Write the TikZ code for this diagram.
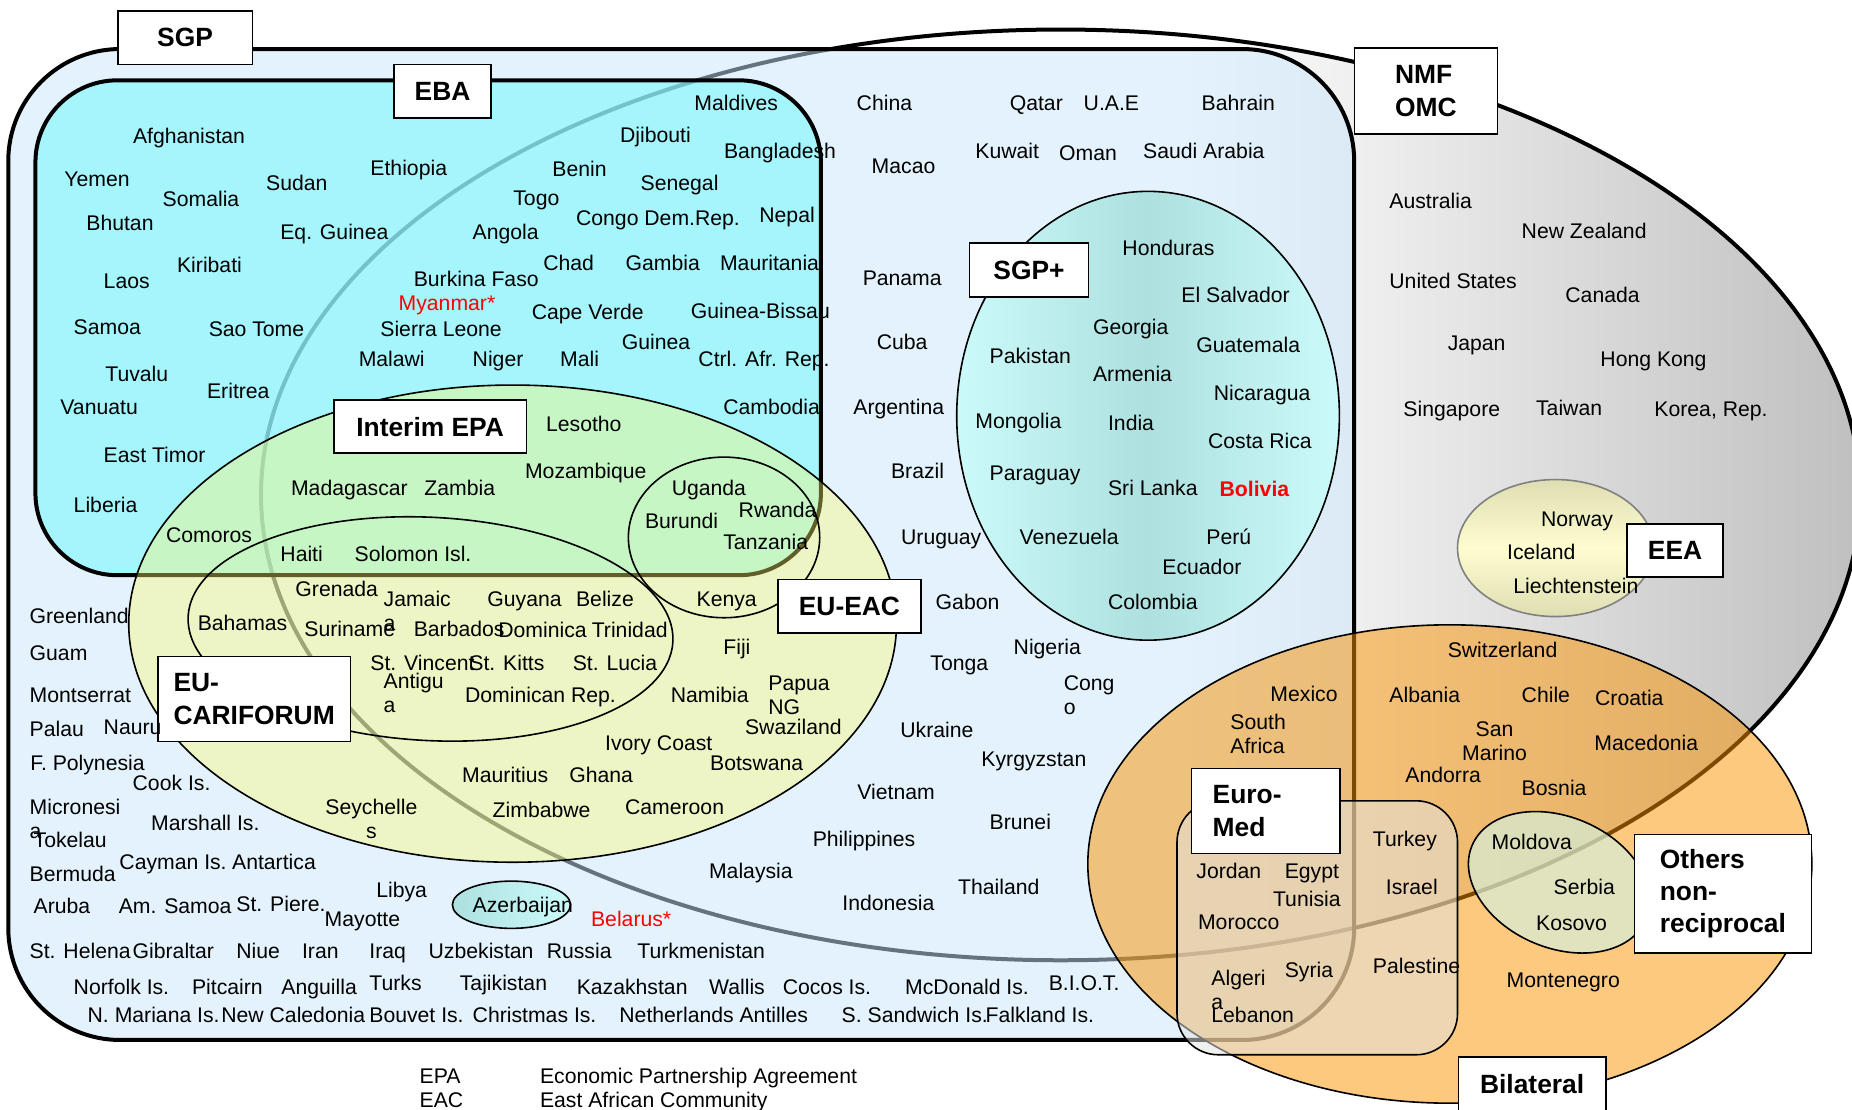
\documentclass[tikz,border=0pt]{standalone}
\usepackage{fontspec}
\setmainfont{Liberation Sans}
\usepackage{xcolor}
\usepackage{tikz}
\newdimen\pxu
\pxu=0.5906pt
\definecolor{sgpblue}{RGB}{200,230,250}
\definecolor{ebacyan}{RGB}{125,247,252}
\definecolor{epayellow}{RGB}{255,250,108}
\definecolor{bilorange}{RGB}{249,147,0}
\definecolor{medgrey}{RGB}{227,227,226}
\definecolor{othgreen}{RGB}{213,239,217}
\definecolor{teallight}{RGB}{204,250,250}
\definecolor{tealdark}{RGB}{174,224,224}
\definecolor{eealight}{RGB}{254,253,208}
\definecolor{eeadark}{RGB}{222,222,178}
\colorlet{nmfgrey}{gray!50}
\pgfdeclarehorizontalshading{nmfshade}{100bp}{color(0bp)=(white); color(54bp)=(white); color(75bp)=(nmfgrey); color(100bp)=(nmfgrey)}
\newcommand{\wrapl}[1]{\begin{tabular}[t]{@{}l@{}}#1\end{tabular}}
\newcommand{\wrapc}[1]{\begin{tabular}[t]{@{}c@{}}#1\end{tabular}}
\tikzset{
    country/.style = {inner sep=0pt, anchor=base west, font=\fontsize{10.6}{12}\selectfont},
    flagged/.style = {country, text=red},
    tag/.style = {rectangle, draw=black, fill=white, line width=0.8pt, inner sep=0pt, anchor=north west, align=left, font=\bfseries\fontsize{13.2}{16.2}\selectfont},
    border/.style = {draw=black, line width=2pt},
    ring/.style = {draw=black, line width=0.8pt}
}
\begin{document}
\begin{tikzpicture}[x=0.5906pt, y=-0.5906pt]
\useasboundingbox (0,0) rectangle (1568,939);

\draw [border, shade, shading=nmfshade] (898,419) ellipse [x radius=677, y radius=394];
\draw [border, fill=sgpblue, fill opacity=0.5, rounded corners=56pt] (7,41.5) rectangle (1146.5,880.5);
\draw [border, fill=ebacyan, fill opacity=0.6, rounded corners=41pt] (30,68) rectangle (695,487);
\draw [ring, fill=epayellow, fill opacity=0.38] (434,528) ellipse [x radius=325, y radius=202];
\draw [ring, rotate around={-3:(364.5,532.5)}] (364.5,532.5) ellipse [x radius=205.5, y radius=94.5];
\draw [ring] (613,455) ellipse [x radius=81, y radius=68];
\draw [ring, left color=teallight, right color=teallight, middle color=tealdark] (972,352) ellipse [x radius=162, y radius=190];
\draw [ring, left color=tealdark, right color=teallight] (433,766) ellipse [x radius=50, y radius=20];
\draw [draw=gray, line width=0.8pt, top color=eeadark, bottom color=eeadark, middle color=eealight] (1317,464) ellipse [x radius=83, y radius=58];
\draw [ring, fill=bilorange, fill opacity=0.5] (1227.5,731.5) ellipse [x radius=306.5, y radius=202.5];
\draw [ring, fill=medgrey, fill opacity=0.52, rounded corners=20.7pt] (996.5,678) rectangle (1234,893);
\draw [ring, fill=othgreen, fill opacity=0.7, rotate around={-23:(1320,747)}] (1320,747) ellipse [x radius=80, y radius=55.5];

\node (sgp) [tag, minimum width=114*\pxu, minimum height=45.5*\pxu] at (99,8.5) {SGP};
\node (eba) [tag, minimum width=82*\pxu, minimum height=45*\pxu] at (333,54) {EBA};
\node (nmf) [tag, minimum width=121*\pxu, minimum height=73*\pxu] at (1146,40) {NMF\\OMC};
\node (sgpplus) [tag, minimum width=101*\pxu, minimum height=46*\pxu] at (820,205) {SGP+};
\node (interimepa) [tag, minimum width=163*\pxu, minimum height=45*\pxu] at (282,338) {Interim EPA};
\node (eueac) [tag, minimum width=121*\pxu, minimum height=45*\pxu] at (658,490) {EU-EAC};
\node (cariforum) [tag, minimum width=163*\pxu, minimum height=72*\pxu] at (133,555) {EU-\\CARIFORUM};
\node (eea) [tag, minimum width=81*\pxu, minimum height=45*\pxu] at (1377,443) {EEA};
\node (euromed) [tag, minimum width=126*\pxu, minimum height=72*\pxu, text width=90*\pxu] at (1008,650) {Euro-\\Med};
\node (others) [tag, minimum width=150*\pxu, minimum height=100*\pxu] at (1383,706) {Others\\non-\\reciprocal};
\node (bilateral) [tag, minimum width=125*\pxu, minimum height=46*\pxu] at (1234,894) {Bilateral};

\node (afghanistan) [country] at (112.3,121.4) {Afghanistan};
\node (yemen) [country] at (54.2,157.5) {Yemen};
\node (somalia) [country] at (137.4,175) {Somalia};
\node (sudan) [country] at (225,161.7) {Sudan};
\node (ethiopia) [country] at (313.3,148.2) {Ethiopia};
\node (bhutan) [country] at (72.8,195.3) {Bhutan};
\node (eqguinea) [country] at (237,202.4) {Eq. Guinea};
\node (kiribati) [country] at (149.6,230.9) {Kiribati};
\node (laos) [country] at (87.5,244.4) {Laos};
\node (samoa) [country] at (62.1,283.6) {Samoa};
\node (saotome) [country] at (176.4,285.1) {Sao Tome};
\node (tuvalu) [country] at (88.9,323.2) {Tuvalu};
\node (eritrea) [country] at (175,337.3) {Eritrea};
\node (vanuatu) [country] at (50.8,350.8) {Vanuatu};
\node (easttimor) [country] at (87.5,391.7) {East Timor};
\node (liberia) [country] at (62.1,434.1) {Liberia};
\node (burkina) [country] at (350,242.7) {Burkina Faso};
\node (myanmar) [flagged] at (337.2,263.3) {Myanmar*};
\node (sierraleone) [country] at (321.7,284.5) {Sierra Leone};
\node (malawi) [country] at (303.4,310.5) {Malawi};
\node (niger) [country] at (399.9,310.5) {Niger};
\node (mali) [country] at (473.9,310.5) {Mali};
\node (maldives) [country] at (587.6,93.7) {Maldives};
\node (djibouti) [country] at (524.7,120.8) {Djibouti};
\node (bangladesh) [country] at (612.7,134) {Bangladesh};
\node (benin) [country] at (467.4,149.6) {Benin};
\node (senegal) [country] at (542.1,161.7) {Senegal};
\node (togo) [country] at (434.3,174.4) {Togo};
\node (congodr) [country] at (487.4,190.5) {Congo Dem.Rep.};
\node (nepal) [country] at (642.6,188.5) {Nepal};
\node (angola) [country] at (399.9,202.4) {Angola};
\node (chad) [country] at (459.7,229.2) {Chad};
\node (gambia) [country] at (529.4,229.2) {Gambia};
\node (mauritania) [country] at (609.3,229.2) {Mauritania};
\node (capeverde) [country] at (449.9,270.1) {Cape Verde};
\node (guineabissau) [country] at (584.5,269.5) {Guinea-Bissau};
\node (guinea) [country] at (526.1,296.3) {Guinea};
\node (ctrlafr) [country] at (591,309.9) {Ctrl. Afr. Rep.};
\node (cambodia) [country] at (612.1,350.8) {Cambodia};

\node (lesotho) [country] at (462,364.9) {Lesotho};
\node (madagascar) [country] at (246.1,419.1) {Madagascar};
\node (zambia) [country] at (359,419.1) {Zambia};
\node (mozambique) [country] at (444.2,405) {Mozambique};
\node (comoros) [country] at (140.3,459.5) {Comoros};
\node (haiti) [country] at (237.1,475.6) {Haiti};
\node (solomon) [country] at (300,475.6) {Solomon Isl.};
\node (uganda) [country] at (568.4,419.1) {Uganda};
\node (rwanda) [country] at (625.1,438) {Rwanda};
\node (burundi) [country] at (545.8,447.3) {Burundi};
\node (tanzania) [country] at (612.1,465.1) {Tanzania};
\node (kenya) [country] at (589.5,513.7) {Kenya};
\node (grenada) [country] at (249.8,505.2) {Grenada};
\node (jamaica) [country] at (324.5,513.7) {\wrapl{Jamaic\\a}};
\node (bahamas) [country] at (167.1,533.4) {Bahamas};
\node (suriname) [country] at (257.4,539.1) {Suriname};
\node (barbados) [country] at (350,539.1) {Barbados};
\node (guyana) [country] at (412.3,513.7) {Guyana};
\node (belize) [country] at (487.4,513.7) {Belize};
\node (dominica) [country] at (421.6,539.9) {Dominica};
\node (trinidad) [country] at (500.7,539.9) {Trinidad};
\node (stvincent) [country] at (313.3,567.3) {St. Vincent};
\node (stkitts) [country] at (397.1,567.3) {St. Kitts};
\node (stlucia) [country] at (484.6,567.3) {St. Lucia};
\node (antigua) [country] at (324.5,582.8) {\wrapl{Antigu\\a}};
\node (dominicanrep) [country] at (393.4,594.6) {Dominican Rep.};
\node (fiji) [country] at (612.1,554) {Fiji};
\node (namibia) [country] at (567.6,594.6) {Namibia};
\node (papua) [country] at (650.2,584.2) {\wrapl{Papua\\NG}};
\node (swaziland) [country] at (630.5,621.7) {Swaziland};
\node (ivorycoast) [country] at (512,635) {Ivory Coast};
\node (botswana) [country] at (600.9,652) {Botswana};
\node (mauritius) [country] at (391,662.7) {Mauritius};
\node (ghana) [country] at (481.7,662.7) {Ghana};
\node (zimbabwe) [country] at (416.8,692) {Zimbabwe};
\node (cameroon) [country] at (528.9,690) {Cameroon};
\node (seychelles) [country] at (275.2,690) {\wrapc{Seychelle\\s}};

\node (greenland) [country] at (24.8,527.8) {Greenland};
\node (guam) [country] at (24.8,559.6) {Guam};
\node (montserrat) [country] at (24.8,594.6) {Montserrat};
\node (palau) [country] at (24.8,623.7) {Palau};
\node (nauru) [country] at (87.5,621.7) {Nauru};
\node (fpolynesia) [country] at (25.4,652) {F. Polynesia};
\node (cookis) [country] at (112,668.9) {Cook Is.};
\node (micronesia) [country] at (24.8,690) {\wrapl{Micronesi\\a}};
\node (marshall) [country] at (127.6,703.3) {Marshall Is.};
\node (tokelau) [country] at (28.2,717.4) {Tokelau};
\node (cayman) [country] at (100.8,735.8) {Cayman Is.};
\node (antartica) [country] at (196.2,735.8) {Antartica};
\node (bermuda) [country] at (24.8,746.5) {Bermuda};
\node (libya) [country] at (318.3,759.7) {Libya};
\node (aruba) [country] at (28.2,773.3) {Aruba};
\node (amsamoa) [country] at (100.2,773.3) {Am. Samoa};
\node (stpiere) [country] at (199.8,771.3) {St. Piere.};
\node (mayotte) [country] at (274.6,784.6) {Mayotte};
\node (sthelena) [country] at (24.8,811.4) {St. Helena};
\node (gibraltar) [country] at (112,811.4) {Gibraltar};
\node (niue) [country] at (199.8,811.4) {Niue};
\node (iran) [country] at (255.4,811.4) {Iran};
\node (iraq) [country] at (312.4,811.4) {Iraq};
\node (uzbekistan) [country] at (362.6,811.4) {Uzbekistan};
\node (russia) [country] at (462.6,811.4) {Russia};
\node (turkmenistan) [country] at (539.3,811.4) {Turkmenistan};
\node (norfolk) [country] at (62.1,841.6) {Norfolk Is.};
\node (pitcairn) [country] at (162.3,841.6) {Pitcairn};
\node (anguilla) [country] at (237.9,841.6) {Anguilla};
\node (turks) [country] at (312.4,838.2) {Turks};
\node (tajikistan) [country] at (389,838.2) {Tajikistan};
\node (kazakhstan) [country] at (488,841.6) {Kazakhstan};
\node (wallis) [country] at (600,841.6) {Wallis};
\node (cocos) [country] at (662.4,841.6) {Cocos Is.};
\node (mcdonald) [country] at (766,841.6) {McDonald Is.};
\node (biot) [country] at (887.6,838.8) {B.I.O.T.};
\node (nmariana) [country] at (73.9,865.9) {N. Mariana Is.};
\node (newcaledonia) [country] at (187.1,865.9) {New Caledonia};
\node (bouvet) [country] at (312.4,865.9) {Bouvet Is.};
\node (christmas) [country] at (399.9,865.9) {Christmas Is.};
\node (netherlands) [country] at (524.1,865.9) {Netherlands Antilles};
\node (ssandwich) [country] at (712.3,865.9) {S. Sandwich Is.};
\node (falkland) [country] at (834.2,865.9) {Falkland Is.};
\node (azerbaijan) [country] at (399.9,772.7) {Azerbaijan};
\node (belarus) [flagged] at (500.1,784) {Belarus*};

\node (china) [country] at (725,93.7) {China};
\node (macao) [country] at (737.7,147.3) {Macao};
\node (panama) [country] at (730.1,242.1) {Panama};
\node (cuba) [country] at (742,296.3) {Cuba};
\node (argentina) [country] at (722.2,350.8) {Argentina};
\node (brazil) [country] at (754.1,405) {Brazil};
\node (uruguay) [country] at (762.6,461.4) {Uruguay};
\node (gabon) [country] at (791.9,515.9) {Gabon};
\node (tonga) [country] at (787.4,567.3) {Tonga};
\node (nigeria) [country] at (857.9,554) {Nigeria};
\node (congo) [country] at (900.3,584.8) {\wrapl{Cong\\o}};
\node (ukraine) [country] at (762,624) {Ukraine};
\node (kyrgyzstan) [country] at (830.6,649.1) {Kyrgyzstan};
\node (vietnam) [country] at (725.6,676.8) {Vietnam};
\node (brunei) [country] at (837.6,702.7) {Brunei};
\node (philippines) [country] at (687.8,716.3) {Philippines};
\node (malaysia) [country] at (600,743.7) {Malaysia};
\node (thailand) [country] at (810.8,757.2) {Thailand};
\node (indonesia) [country] at (712.9,771) {Indonesia};
\node (qatar) [country] at (854.6,93.7) {Qatar};
\node (uae) [country] at (917.2,93.7) {U.A.E};
\node (bahrain) [country] at (1017.1,93.7) {Bahrain};
\node (kuwait) [country] at (825.5,134.6) {Kuwait};
\node (oman) [country] at (896.4,136) {Oman};
\node (saudi) [country] at (967.5,134.6) {Saudi Arabia};

\node (honduras) [country] at (950,215.9) {Honduras};
\node (elsalvador) [country] at (999.9,256.3) {El Salvador};
\node (georgia) [country] at (925.1,283) {Georgia};
\node (guatemala) [country] at (1012.6,298.3) {Guatemala};
\node (pakistan) [country] at (837.6,307.6) {Pakistan};
\node (armenia) [country] at (925.1,323.2) {Armenia};
\node (nicaragua) [country] at (1027.3,339.2) {Nicaragua};
\node (mongolia) [country] at (825.5,362.7) {Mongolia};
\node (india) [country] at (937.8,364.1) {India};
\node (costarica) [country] at (1022.5,379.6) {Costa Rica};
\node (paraguay) [country] at (837.6,406.4) {Paraguay};
\node (srilanka) [country] at (937.8,419.1) {Sri Lanka};
\node (bolivia) [flagged, font=\bfseries\fontsize{10.6}{12}\selectfont] at (1032.3,420.5) {Bolivia};
\node (venezuela) [country] at (863,460.9) {Venezuela};
\node (peru) [country] at (1021.1,460.9) {Perú};
\node (ecuador) [country] at (983.8,486) {Ecuador};
\node (colombia) [country] at (937.8,515.9) {Colombia};

\node (australia) [country] at (1176,176.4) {Australia};
\node (newzealand) [country] at (1288,201.8) {New Zealand};
\node (unitedstates) [country] at (1176,244.1) {United States};
\node (canada) [country] at (1325,256.3) {Canada};
\node (japan) [country] at (1225.4,296.9) {Japan};
\node (hongkong) [country] at (1354.7,309.9) {Hong Kong};
\node (singapore) [country] at (1187.9,352.8) {Singapore};
\node (taiwan) [country] at (1300.2,351.4) {Taiwan};
\node (korea) [country] at (1400.4,352.8) {Korea, Rep.};
\node (norway) [country] at (1304.4,445.9) {Norway};
\node (iceland) [country] at (1275.7,473.6) {Iceland};
\node (liechtenstein) [country] at (1281,502.4) {Liechtenstein};

\node (switzerland) [country] at (1225.4,556.6) {Switzerland};
\node (mexico) [country] at (1075.3,594.1) {Mexico};
\node (southafrica) [country] at (1041.4,617.5) {\wrapl{South\\Africa}};
\node (albania) [country] at (1176,594.9) {Albania};
\node (chile) [country] at (1288,594.9) {Chile};
\node (croatia) [country] at (1350.2,596.9) {Croatia};
\node (sanmarino) [country] at (1237.6,623.7) {\wrapc{San\\Marino}};
\node (macedonia) [country] at (1349.6,635) {Macedonia};
\node (andorra) [country] at (1189.6,662.7) {Andorra};
\node (bosnia) [country] at (1288,673.1) {Bosnia};
\node (turkey) [country] at (1162,716.8) {Turkey};
\node (israel) [country] at (1173,756.9) {Israel};
\node (palestine) [country] at (1162,824.1) {Palestine};
\node (moldova) [country] at (1262.6,719.1) {Moldova};
\node (serbia) [country] at (1315.1,756.9) {Serbia};
\node (kosovo) [country] at (1300.2,787.4) {Kosovo};
\node (montenegro) [country] at (1275.3,835.9) {Montenegro};
\node (jordan) [country] at (1012.6,743.7) {Jordan};
\node (egypt) [country] at (1087.4,743.7) {Egypt};
\node (tunisia) [country] at (1077.5,767.7) {Tunisia};
\node (morocco) [country] at (1014,786.6) {Morocco};
\node (algeria) [country] at (1025.3,834) {\wrapl{Algeri\\a}};
\node (syria) [country] at (1087.4,827.5) {Syria};
\node (lebanon) [country] at (1025.3,865.9) {Lebanon};

\node (epa) [country] at (355,917.2) {EPA};
\node (epatext) [country] at (456.9,917.2) {Economic Partnership Agreement};
\node (eac) [country] at (355,938) {EAC};
\node (eactext) [country] at (456.9,938) {East African Community};
\end{tikzpicture}
\end{document}
